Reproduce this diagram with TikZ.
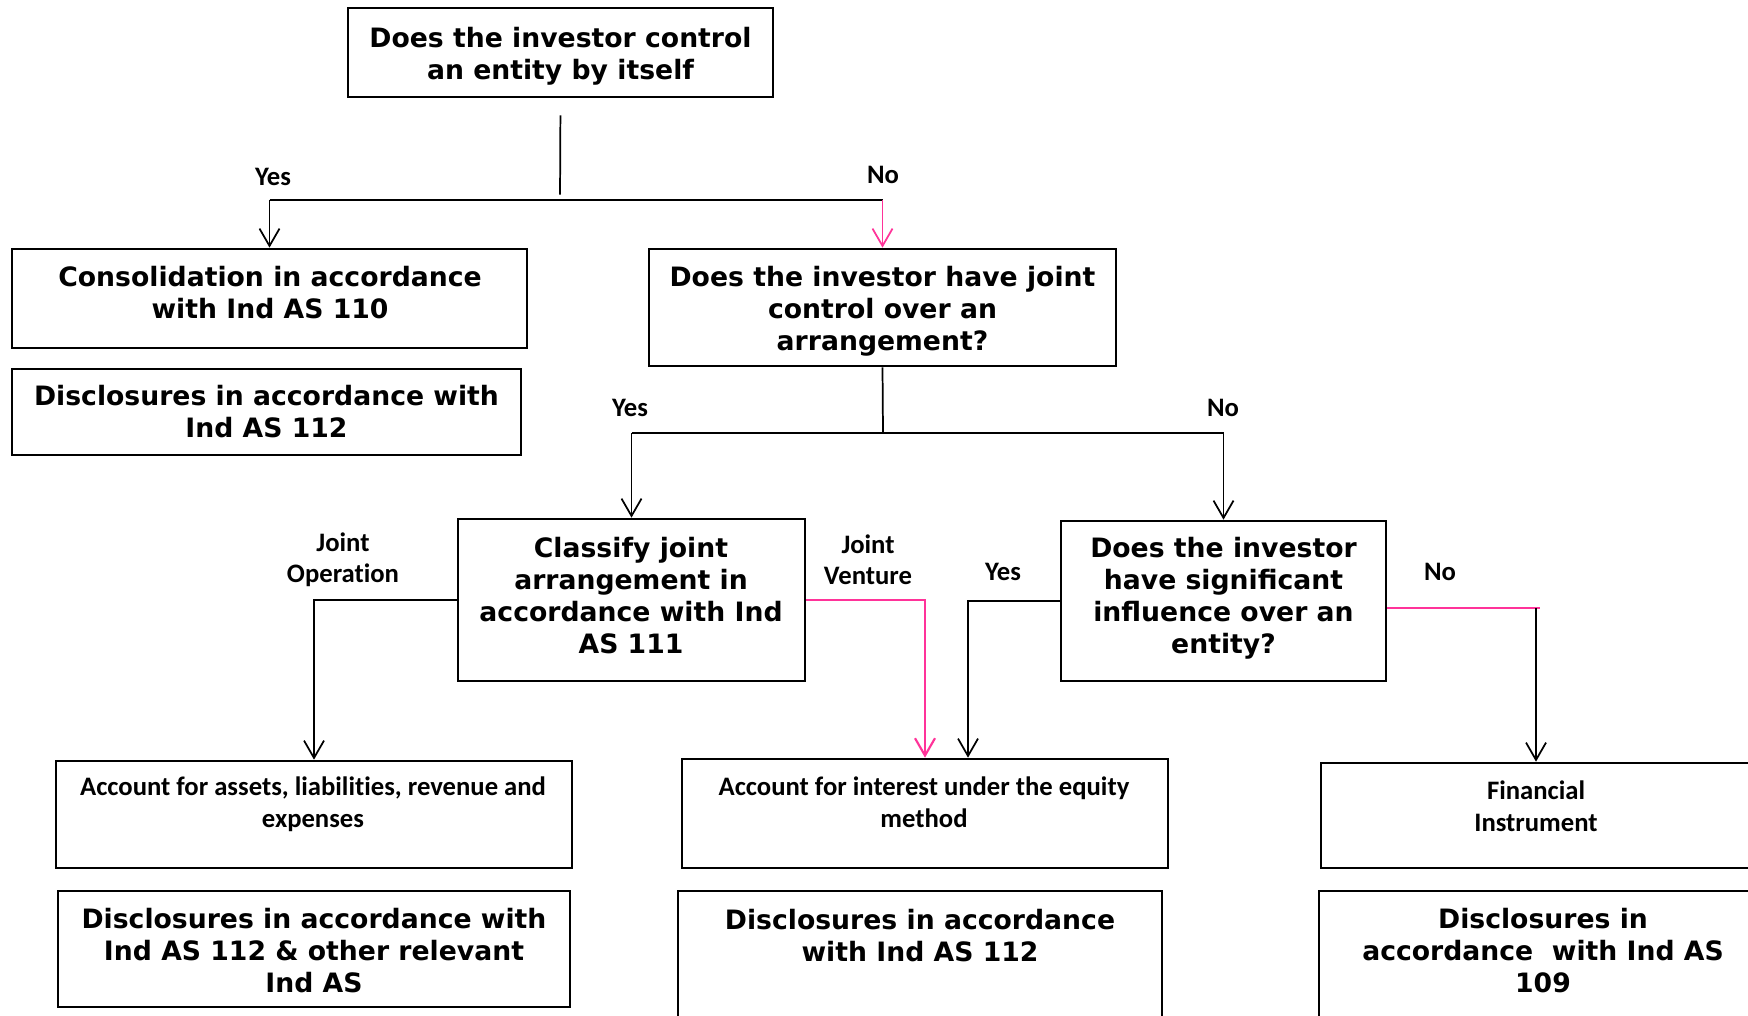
\documentclass[tikz,border=0pt]{standalone}
\usepackage{fontspec}
\setmainfont{DejaVu Sans}
\newfontfamily\calfont[RawFeature={-liga;-clig;-dlig;-calt}]{Carlito}
\usetikzlibrary{arrows.meta,calc}
\definecolor{hotpink}{RGB}{255,51,153}
\begin{document}
\begin{tikzpicture}[x=0.75pt,y=-0.75pt,
  box/.style={draw, line width=2pt, rectangle, inner sep=0pt, align=center,
    font=\fontsize{20}{24}\selectfont\bfseries},
  bigtext/.style={align=center, inner sep=0pt, font=\fontsize{20}{24}\selectfont\bfseries},
  smalltext/.style={align=center, inner sep=0pt, font=\calfont\fontsize{20}{24}\selectfont\bfseries},
  lbl/.style={align=center, inner sep=0pt, font=\calfont\fontsize{20}{23.5}\selectfont\bfseries},
  conn/.style={line width=1.3pt},
  arr/.style={conn, -{Straight Barb[length=13pt,width=15pt]}}]
\useasboundingbox (0,0) rectangle (1748,1016);
\clip (0,0) rectangle (1748,1016);
\fill[white] (0,0) rectangle (1748,1016);

% boxes
\node[box, minimum width=318.75pt, minimum height=66.75pt] (top) at (560.5,52.5) {};
\node[bigtext] (topt) at (560.5,56) {Does the investor control\\an entity by itself};
\node[box, minimum width=386.25pt, minimum height=74.25pt] (cons) at (269.5,298.5) {};
\node[bigtext] (const) at (270,293) {Consolidation in accordance\\with Ind AS 110};
\node[box, minimum width=350.25pt, minimum height=87.75pt] (jc) at (882.5,307.5) {};
\node[bigtext] (jct) at (882.5,311.5) {Does the investor have joint\\control over an\\arrangement?};
\node[box, minimum width=381.75pt, minimum height=64.5pt] (disc1) at (266.5,412)
  {Disclosures in accordance with\\Ind AS 112};
\node[box, minimum width=260.25pt, minimum height=121.5pt] (cl) at (631.5,600) {};
\node[bigtext] (clt) at (631,596) {Classify joint\\arrangement in\\accordance with Ind\\AS 111};
\node[box, minimum width=243.75pt, minimum height=120pt] (sig) at (1223.5,601) {};
\node[bigtext] (sigt) at (1223.5,598.5) {Does the investor\\have significant\\influence over an\\entity?};
\node[box, minimum width=387pt, minimum height=80.25pt] (acc) at (314,814.5) {};
\node[smalltext] (acct) at (313,804) {Account for assets, liabilities, revenue and\\expenses};
\node[box, minimum width=364.5pt, minimum height=81.75pt] (eq) at (925,813.5) {};
\node[smalltext] (eqt) at (924,802) {Account for interest under the equity\\method};
\node[box, minimum width=322.5pt, minimum height=78.75pt] (fin) at (1536,815.5) {};
\node[smalltext] (fint) at (1536,806) {Financial\\Instrument};
\node[box, minimum width=384pt, minimum height=87pt] (disc2) at (314,949) {};
\node[bigtext] (disc2t) at (314,951) {Disclosures in accordance with\\Ind AS 112 \& other relevant\\Ind AS};
\node[box, minimum width=363pt, minimum height=111.75pt] (disc3) at (920,965.5) {};
\node[bigtext] (disc3t) at (920,935.5) {Disclosures in accordance\\with Ind AS 112};
\node[box, minimum width=336pt, minimum height=111.75pt] (disc4) at (1543,965.5) {};
\node[bigtext] (disc4t) at (1543,951) {Disclosures in\\accordance\ \ with Ind AS\\109};

% level 1 connectors
\coordinate (j1) at (560,200);
\draw[conn, shorten <=12.75pt, shorten >=4pt] (top.south) -- (j1);
\draw[conn] (cons.north |- j1) -- (jc.north |- j1);
\draw[arr] (cons.north |- j1) -- (cons.north);
\draw[arr, hotpink] (jc.north |- j1) -- (jc.north);
\node[lbl] (y1) at (273,177) {Yes};
\node[lbl] (n1) at (883,175) {No};

% level 2 connectors
\coordinate (j2) at (883,433);
\draw[conn] (jc.south) -- (j2);
\draw[conn] (cl.north |- j2) -- (sig.north |- j2);
\draw[arr] (cl.north |- j2) -- (cl.north);
\draw[arr] (sig.north |- j2) -- (sig.north);
\node[lbl] (y2) at (630,408) {Yes};
\node[lbl] (n2) at (1223,408) {No};

% level 3 connectors
\draw[arr] (cl.west) -| (acc.north);
\node[lbl] (jo) at (343,560) {Joint\\Operation};
\draw[arr, hotpink, line width=1.6pt] (cl.east) -| (eq.north);
\node[lbl] (jv) at (868,560) {Joint\\Venture};
\draw[arr] (sig.west) -| ($(eq.north)+(43,0)$);
\node[lbl] (y4) at (1003,572) {Yes};
\draw[line width=2pt, hotpink] ($(sig.east)+(0,7)$) -- ($(fin.north |- sig.east)+(4,7)$);
\draw[arr] ($(fin.north |- sig.east)+(0,7)$) -- (fin.north);
\node[lbl] (n4) at (1440,572) {No};
\end{tikzpicture}
\end{document}
